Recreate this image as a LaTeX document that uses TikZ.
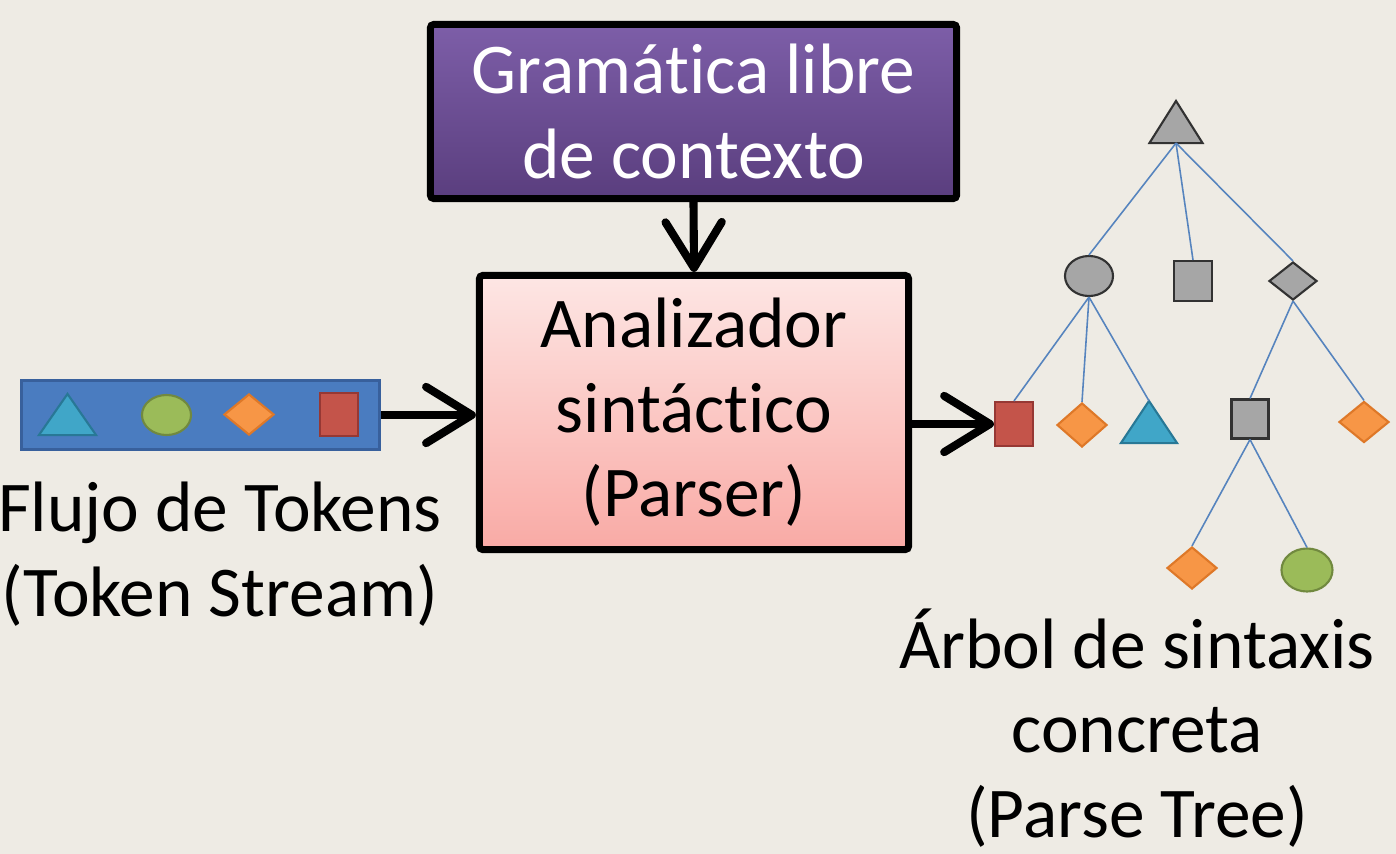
\documentclass[tikz,border=0pt]{standalone}
\usepackage{fontspec}
\setmainfont{Carlito}[RawFeature={-liga;-clig;-calt;-dlig;-hlig}]
\usetikzlibrary{shapes.geometric,arrows.meta}

\definecolor{bgcol}{RGB}{238,235,228}
\definecolor{purpletop}{RGB}{125,94,168}
\definecolor{purplebot}{RGB}{90,62,126}
\definecolor{pinktop}{RGB}{253,230,228}
\definecolor{pinkbot}{RGB}{249,170,165}
\definecolor{streamblue}{RGB}{74,124,192}
\definecolor{streamedge}{RGB}{56,96,156}
\definecolor{edgeblue}{RGB}{86,132,190}
\definecolor{tokorange}{RGB}{247,150,70}
\definecolor{tokorangeedge}{RGB}{222,120,40}
\definecolor{tokgreen}{RGB}{155,187,89}
\definecolor{tokgreenedge}{RGB}{113,137,63}
\definecolor{tokcyan}{RGB}{64,166,200}
\definecolor{tokcyanedge}{RGB}{40,120,150}
\definecolor{tokred}{RGB}{196,84,74}
\definecolor{tokrededge}{RGB}{150,56,52}
\definecolor{tokgray}{RGB}{166,166,166}
\definecolor{tokgrayedge}{RGB}{50,50,50}

\tikzset{
    box/.style={draw=black, line width=2pt, rounded corners=1pt, align=center,
        font=\fontsize{20.3}{24}\selectfont},
    flow/.style={line width=2.3pt, -{Straight Barb[length=13pt,width=16pt,round]}},
    treeedge/.style={draw=edgeblue, line width=0.45pt},
    label/.style={align=center, font=\fontsize{20.3}{24}\selectfont},
    shp/.style={inner sep=0pt, line width=0.6pt},
    sqnode/.style={shp, rectangle, fill=#1, draw=#1edge},
    dianode/.style={shp, diamond, fill=#1, draw=#1edge},
    ellnode/.style={shp, ellipse, fill=#1, draw=#1edge},
    trinode/.style={shp, rectangle}
}

\begin{document}
\begin{tikzpicture}[x=0.01cm,y=-0.01cm]
    % Background
    \fill [bgcol] (0,0) rectangle (1396,854);
    \useasboundingbox (0,0) rectangle (1396,854);

    % Boxes
    \node [box, text=white, top color=purpletop, bottom color=purplebot,
        minimum width=5.26cm, minimum height=1.74cm] (gram) at (693.5,111.5)
        {Gramát\kern0pt ica libre\\de contexto};
    \node [box, top color=pinktop, bottom color=pinkbot,
        minimum width=4.29cm, minimum height=2.74cm] (parser) at (694,412.5)
        {Analizador\\sintáct\kern0pt ico\\(Parser)};

    % Token stream
    \node [fill=streamblue, draw=streamedge, line width=1pt,
        minimum width=3.58cm, minimum height=0.69cm] (tokens) at (200.5,415) {};
    \node [trinode, minimum width=0.55cm, minimum height=0.39cm] (ttri) at (67.5,414.5) {};
    \draw [fill=tokcyan, draw=tokcyanedge, line width=0.6pt]
        (ttri.south west) -- (ttri.north) -- (ttri.south east) -- cycle;
    \node [ellnode=tokgreen, minimum width=0.49cm, minimum height=0.40cm] (tell) at (166.5,415) {};
    \node [dianode=tokorange, minimum width=0.50cm, minimum height=0.41cm] (tdia) at (249,414.5) {};
    \node [sqnode=tokred, minimum width=0.38cm, minimum height=0.43cm] (tsq) at (339,414.5) {};

    % Arrows
    \draw [flow] (gram.south) -- (parser.north);
    \draw [flow] (tokens.east) -- (parser.west |- tokens.east);

    % Tree
    \node [trinode, minimum width=0.51cm, minimum height=0.40cm] (root) at (1176,122) {};
    \draw [fill=tokgray, draw=tokgrayedge, line width=0.6pt]
        (root.south west) -- (root.north) -- (root.south east) -- cycle;
    \node [ellnode=tokgray, minimum width=0.48cm, minimum height=0.40cm] (nell) at (1089,276) {};
    \node [sqnode=tokgray, minimum width=0.38cm, minimum height=0.40cm] (nsq) at (1193,281) {};
    \node [dianode=tokgray, minimum width=0.48cm, minimum height=0.38cm] (ndia) at (1293,281) {};

    \node [sqnode=tokred, minimum width=0.38cm, minimum height=0.44cm] (lsq) at (1014,424) {};
    \node [dianode=tokorange, minimum width=0.50cm, minimum height=0.44cm] (ldia) at (1082,425) {};
    \node [trinode, minimum width=0.54cm, minimum height=0.40cm] (ltri) at (1149,422) {};
    \draw [fill=tokcyan, draw=tokcyanedge, line width=0.6pt]
        (ltri.south west) -- (ltri.north) -- (ltri.south east) -- cycle;
    \node [sqnode=tokgray, minimum width=0.37cm, minimum height=0.39cm] (msq) at (1250,419) {};
    \node [dianode=tokorange, minimum width=0.50cm, minimum height=0.41cm] (rdia) at (1364,422) {};

    \node [dianode=tokorange, minimum width=0.50cm, minimum height=0.42cm] (bdia) at (1192,568) {};
    \node [ellnode=tokgreen, minimum width=0.51cm, minimum height=0.43cm] (bell) at (1307,570) {};

    \draw [treeedge] (root.south) -- (nell.north);
    \draw [treeedge] (root.south) -- (nsq.north);
    \draw [treeedge] (root.south) -- (ndia.north);
    \draw [treeedge] (nell.south) -- (lsq.north);
    \draw [treeedge] (nell.south) -- (ldia.north);
    \draw [treeedge] (nell.south) -- (ltri.north);
    \draw [treeedge] (ndia.south) -- (msq.north);
    \draw [treeedge] (ndia.south) -- (rdia.north);
    \draw [treeedge] (msq.south) -- (bdia.north);
    \draw [treeedge] (msq.south) -- (bell.north);

    \draw [flow] (parser.east |- lsq.west) -- (lsq.west);

    % Labels
    \node [label] (flujo) at (220,554) {Flujo de Tokens\\(Token Stream)};
    \node [label] (arbol) at (1137,728) {Árbol de sintaxis\\concreta\\(Parse Tree)};

\end{tikzpicture}
\end{document}
